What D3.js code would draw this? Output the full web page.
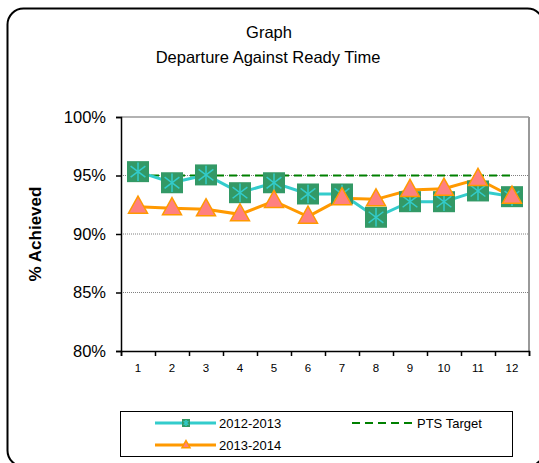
<!DOCTYPE html>
<html><head><meta charset="utf-8">
<script src="https://cdn.jsdelivr.net/npm/d3@7"></script>
<style>body{margin:0;background:#fff;} svg{display:block;font-family:"Liberation Sans",Arial,sans-serif;}</style>
</head><body>
<svg id="c" width="539" height="463"></svg>
<script>
const months = ["1","2","3","4","5","6","7","8","9","10","11","12"];
const s2012 = [95.33,94.38,95.05,93.53,94.38,93.42,93.42,91.43,92.76,92.76,93.68,93.19];
const s2013 = [92.33,92.2,92.11,91.68,92.82,91.48,93.05,92.96,93.76,93.87,94.7,93.19];
const target = [95,95,95,95,95,95,95,95,95,95,95,95];
const yTicks = [80,85,90,95,100];
const seriesNames = ["2012-2013","2013-2014","PTS Target"];

const svg = d3.select("#c");
svg.append("rect").attr("x",7.5).attr("y",8.5).attr("width",536).attr("height",458).attr("rx",16)
  .attr("fill","#fff").attr("stroke","#000").attr("stroke-width",2);

const L=121,R=529,T=117,B=351;
const x = d3.scaleBand().domain(months).range([L,R]);
const y = d3.scaleLinear().domain([80,100]).range([B,T]);

// gridlines
svg.append("g").selectAll("line").data(yTicks.filter(d=>d>80&&d<100)).join("line")
  .attr("x1",L).attr("x2",R).attr("y1",d=>y(d)).attr("y2",d=>y(d))
  .attr("stroke","#808080").attr("stroke-width",1).attr("stroke-dasharray","1,1");
// top & right border
svg.append("line").attr("x1",L).attr("x2",R).attr("y1",T).attr("y2",T).attr("stroke","#999").attr("stroke-width",1.5);
svg.append("line").attr("x1",R).attr("x2",R).attr("y1",T).attr("y2",B).attr("stroke","#999").attr("stroke-width",2);

// axes
const yAxis = d3.axisLeft(y).tickValues(yTicks).tickFormat(d=>d+"%").tickSize(5).tickPadding(10);
const gy = svg.append("g").attr("transform",`translate(${L},0)`).call(yAxis);
gy.select(".domain").attr("stroke","#000").attr("stroke-width",1.5);
gy.selectAll(".tick line").attr("stroke","#000").attr("stroke-width",1.5);
gy.selectAll("text").attr("font-size",16.5).attr("fill","#000").attr("font-family","Liberation Sans, Arial, sans-serif");

const xTickScale = d3.scaleLinear().domain([0,12]).range([L,R]);
const gx = svg.append("g").attr("transform",`translate(0,${B})`)
  .call(d3.axisBottom(xTickScale).tickValues(d3.range(0,13)).tickSize(5).tickFormat(""));
gx.select(".domain").attr("stroke","#000").attr("stroke-width",1.5);
gx.selectAll(".tick line").attr("stroke","#000").attr("stroke-width",1.5);
svg.append("g").selectAll("text").data(months).join("text")
  .attr("x",d=>x(d)+x.bandwidth()/2).attr("y",B+21).attr("text-anchor","middle")
  .attr("font-size",11.5).attr("fill","#000").text(d=>d);

// y label
svg.append("text").attr("transform",`translate(41,${(T+B)/2}) rotate(-90)`).attr("text-anchor","middle")
  .attr("font-size",17).attr("font-weight","bold").text("% Achieved");

// titles
svg.append("text").attr("x",269).attr("y",38).attr("text-anchor","middle").attr("font-size",16.5).text("Graph");
svg.append("text").attr("x",268).attr("y",63).attr("text-anchor","middle").attr("font-size",16.5).text("Departure Against Ready Time");

const cx = (d,i)=>x(months[i])+x.bandwidth()/2;
const line = d3.line().x(cx).y(d=>y(d));

// target
svg.append("path").datum(target).attr("d",line).attr("fill","none").attr("stroke","#008000")
  .attr("stroke-width",2).attr("stroke-dasharray","8,5");

function asterisk(g, s){
  const a=s*0.42;
  g.append("line").attr("x1",0).attr("x2",0).attr("y1",-a).attr("y2",a);
  g.append("line").attr("x1",-a*0.8).attr("x2",a*0.8).attr("y1",-a*0.6).attr("y2",a*0.6);
  g.append("line").attr("x1",-a*0.8).attr("x2",a*0.8).attr("y1",a*0.6).attr("y2",-a*0.6);
  g.selectAll("line").attr("stroke","#33CCCC").attr("stroke-width",1.5);
}
function tri(g, w){
  const h=w*0.9;
  g.append("path").attr("d",`M0,${-h*0.62}L${w/2},${h*0.38}L${-w/2},${h*0.38}Z`)
    .attr("fill","#FF8080").attr("stroke","#FF9900").attr("stroke-width",1.5);
}

// 2012 series
svg.append("path").datum(s2012).attr("d",line).attr("fill","none").attr("stroke","#33CCCC").attr("stroke-width",3);
// 2013 series line
svg.append("path").datum(s2013).attr("d",line).attr("fill","none").attr("stroke","#FF9900").attr("stroke-width",3);

const m1 = svg.append("g").selectAll("g").data(s2012).join("g")
  .attr("transform",(d,i)=>`translate(${cx(d,i)},${y(d)})`);
m1.append("rect").attr("x",-11).attr("y",-10.5).attr("width",22).attr("height",21).attr("fill","#339966");
m1.each(function(){asterisk(d3.select(this),22);});

const m2 = svg.append("g").selectAll("g").data(s2013).join("g")
  .attr("transform",(d,i)=>`translate(${cx(d,i)},${y(d)})`);
m2.each(function(){tri(d3.select(this),19);});

// legend
svg.append("rect").attr("x",120.5).attr("y",411.5).attr("width",392).attr("height",45).attr("fill","#fff").attr("stroke","#000").attr("stroke-width",1);
const lg = svg.append("g");
// row1
lg.append("line").attr("x1",155).attr("x2",216).attr("y1",423).attr("y2",423).attr("stroke","#33CCCC").attr("stroke-width",3);
const lm1 = lg.append("g").attr("transform","translate(186,423)");
lm1.append("rect").attr("x",-4).attr("y",-4).attr("width",8).attr("height",8).attr("fill","#339966");
asterisk(lm1,7);
lg.append("text").attr("x",219).attr("y",427.5).attr("font-size",13).text(seriesNames[0]);
// row2
lg.append("line").attr("x1",155).attr("x2",216).attr("y1",445).attr("y2",445).attr("stroke","#FF9900").attr("stroke-width",3);
const lm2 = lg.append("g").attr("transform","translate(186,445)");
tri(lm2,8);
lg.append("text").attr("x",219).attr("y",449.5).attr("font-size",13).text(seriesNames[1]);
// target
lg.append("line").attr("x1",352).attr("x2",413).attr("y1",423).attr("y2",423).attr("stroke","#008000").attr("stroke-width",2).attr("stroke-dasharray","8,5");
lg.append("text").attr("x",417).attr("y",427.5).attr("font-size",13).text(seriesNames[2]);
</script>
</body></html>
